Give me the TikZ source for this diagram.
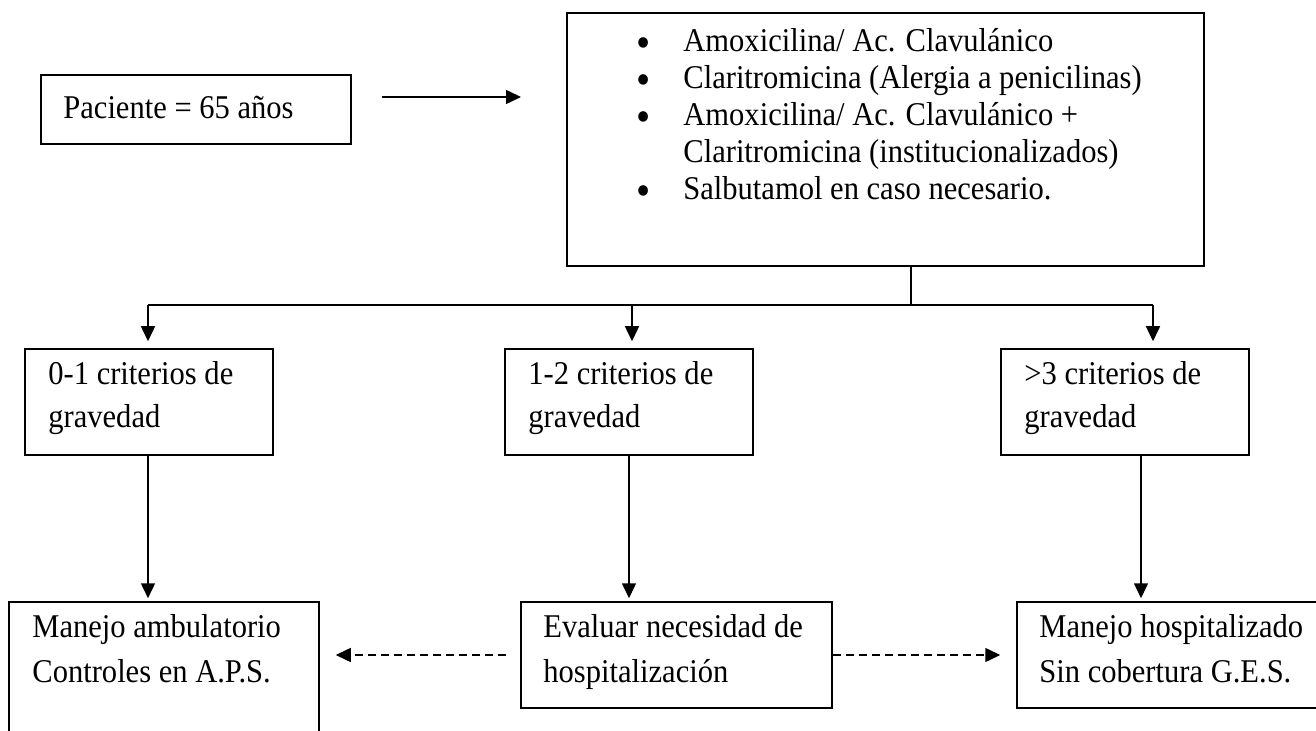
\documentclass[tikz,border=0pt]{standalone}
\usepackage{fontspec}
\setmainfont{Liberation Serif}[FakeStretch=0.92]
\usepackage{tikz}
\usetikzlibrary{arrows.meta}
\tikzstyle{box}=[draw, line width=0.75pt, rectangle, inner sep=0pt]
\tikzstyle{boxText}=[anchor=base west, align=left, inner sep=0pt]
\tikzstyle{flow}=[line width=0.75pt, -{Triangle[length=7.5pt,width=7pt]}]
\tikzstyle{flowDashed}=[flow, dash pattern=on 4pt off 2.5pt]
\newcommand{\medbul}{\llap{\smash{\raisebox{-2.8pt}{\fontsize{22}{0}\selectfont\textbullet}}\hspace{16.6pt}}}

\begin{document}
\begin{tikzpicture}[x=0.5pt, y=-0.5pt]
  \useasboundingbox (0,0) rectangle (1316,731);
  \clip (0,0) rectangle (1316,731);

  % Nodes (text nodes sit on the baseline of their last line)
  \node (pac) at (196,109.5) [box, minimum width=155pt, minimum height=34.5pt] {};
  \node (pactext) at (63,119) [boxText, font=\fontsize{16.6}{18.5}\selectfont] {Paciente = 65 años};

  \node (meds) at (885.5,139.5) [box, minimum width=318.5pt, minimum height=126.5pt] {};
  \node (medstext) at (683,200) [boxText, font=\fontsize{16.6}{18.5}\selectfont]
    {\medbul Amoxicilina/ Ac. Clavulánico\\
     \medbul Claritromicina (Alergia a penicilinas)\\
     \medbul Amoxicilina/ Ac. Clavulánico +\\
     Claritromicina (institucionalizados)\\
     \medbul Salbutamol en caso necesario.};

  \node (crit1) at (149,402) [box, minimum width=124pt, minimum height=53pt] {};
  \node (crit1text) at (48,428) [boxText, font=\fontsize{16.6}{21.5}\selectfont] {0-1 criterios de\\gravedad};

  \node (crit2) at (629,402) [box, minimum width=124pt, minimum height=53pt] {};
  \node (crit2text) at (528,428) [boxText, font=\fontsize{16.6}{21.5}\selectfont] {1-2 criterios de\\gravedad};

  \node (crit3) at (1125,402) [box, minimum width=124pt, minimum height=53pt] {};
  \node (crit3text) at (1024,428) [boxText, font=\fontsize{16.6}{21.5}\selectfont] {>3 criterios de\\gravedad};

  \node (amb) at (164,681) [box, minimum width=155pt, minimum height=79pt] {};
  \node (ambtext) at (32,682) [boxText, font=\fontsize{16.6}{22.5}\selectfont] {Manejo ambulatorio\\Controles en A.P.S.};

  \node (eval) at (676.5,655) [box, minimum width=155.5pt, minimum height=53pt] {};
  \node (evaltext) at (543,682) [boxText, font=\fontsize{16.6}{22.5}\selectfont] {Evaluar necesidad de\\hospitalización};

  \node (hosp) at (1173.5,655) [box, minimum width=156.5pt, minimum height=53pt] {};
  \node (hosptext) at (1039,682) [boxText, font=\fontsize{16.6}{22.5}\selectfont] {Manejo hospitalizado\\Sin cobertura G.E.S.};

  \coordinate (pacout) at (382,97);
  \coordinate (medsin) at (521,97);
  \coordinate (b1) at (148,305);
  \coordinate (b2) at (632,305);
  \coordinate (b3) at (1153,305);

  % Transitions
  \draw[flow] (pacout) -- (medsin);
  \draw[line width=0.75pt] ([xshift=12.75pt]meds.south) -- ([xshift=12.75pt]meds.south |- b1);
  \draw[line width=0.75pt] (b1) -- (b3);
  \draw[flow, shorten >=3.5pt] (b1) -- (b1 |- crit1.north);
  \draw[flow, shorten >=3.5pt] (b2) -- (b2 |- crit2.north);
  \draw[flow, shorten >=3.5pt] (b3) -- (b3 |- crit3.north);
  \draw[flow, shorten >=1.5pt] (b1 |- crit1.south) -- (b1 |- amb.north);
  \draw[flow, shorten >=1.5pt] (crit2.south) -- (crit2.south |- eval.north);
  \draw[flow, shorten >=1.5pt] ([xshift=8pt]crit3.south) -- ([xshift=8pt]crit3.south |- hosp.north);
  \draw[flowDashed, shorten >=8pt] ([xshift=-7pt]eval.west) -- (amb.east |- eval.west);
  \draw[flowDashed, shorten >=8pt] (eval.east) -- (hosp.west);

\end{tikzpicture}
\end{document}
